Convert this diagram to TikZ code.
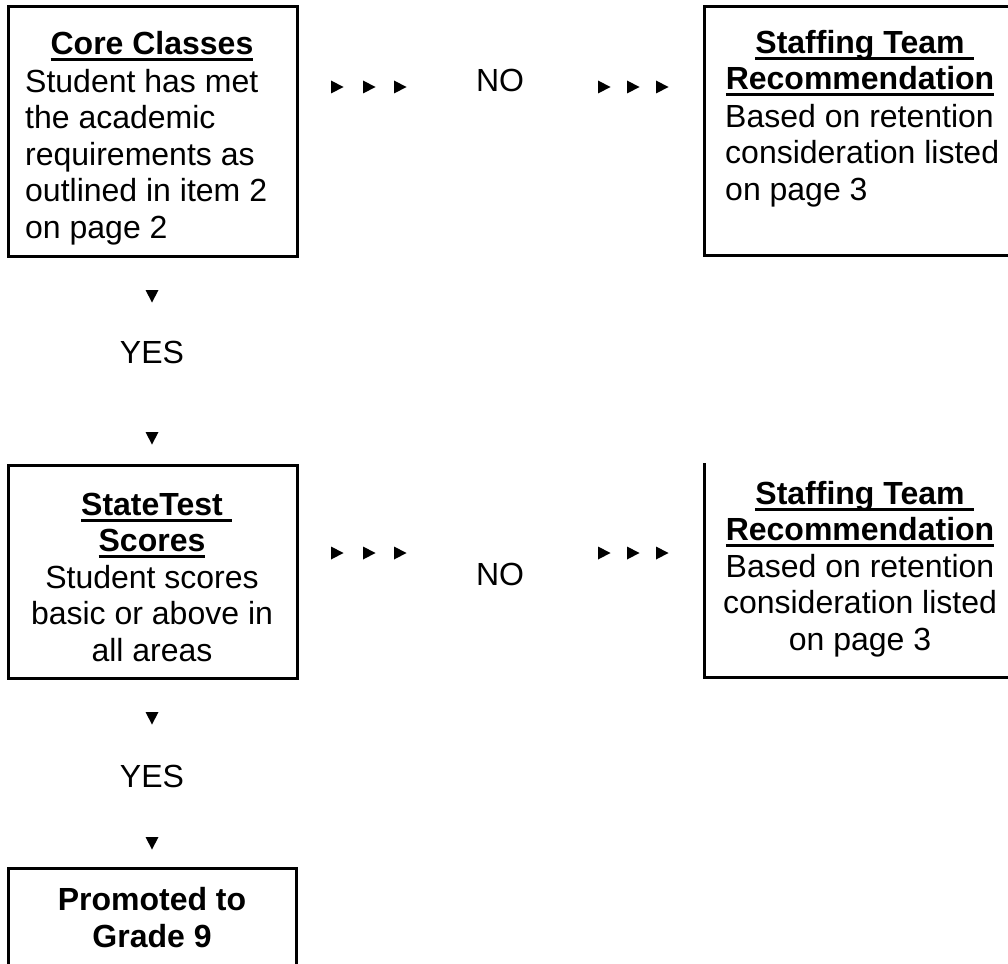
\documentclass[tikz,border=0pt]{standalone}
\usepackage{fontspec}
\setmainfont{Liberation Sans}
\usepackage{tikz}

\newcommand{\headrule}[1]{\setbox0\hbox{#1}\rlap{\rule[-6.5pt]{\wd0}{3pt}}\box0}
\newcommand{\headrulesp}[1]{\headrule{#1}\rlap{\rule[-6.5pt]{9pt}{3pt}}}

\tikzset{
  flowbox/.style={line width=3pt},
  flowtext/.style={inner sep=0pt, font=\fontsize{32}{36.5}\selectfont},
  flowhead/.style={inner sep=0pt, font=\fontsize{32}{36.5}\selectfont\bfseries},
}

\begin{document}
\begin{tikzpicture}[x=1pt, y=-1pt]
\useasboundingbox (0,0) rectangle (1008,963);
\clip (0,0) rectangle (1008,963);

\draw[flowbox] (8,7) rectangle (297,256);
\draw[flowbox] (704,7) rectangle (1016,255);
\draw[flowbox] (8,465) rectangle (297,678);
\draw[flowbox] (704,463) -- (704,677) -- (1016,677);
\draw[flowbox] (8,990) -- (8,868) -- (296,868) -- (296,990);

% multi-line nodes sit on their last baseline
\node[flowhead, anchor=base] (core-head) at (152,55) {\headrule{Core Classes}};
\node[flowtext, anchor=base west, align=left] (core-body) at (25,238)
  {Student has met\\the academic\\requirements as\\outlined in item 2\\on page 2};

\node[flowhead, anchor=base, align=center] (staff-head) at (860,90)
  {\headrulesp{Staffing Team}\\\headrule{Recommendation}};
\node[flowtext, anchor=base west, align=left] (staff-body) at (725,200)
  {Based on retention\\consideration listed\\on page 3};

\node[flowtext, anchor=base, align=center] (state) at (152,661)
  {{\bfseries\headrulesp{StateTest}}\\{\bfseries\headrule{Scores}}\\Student scores\\basic or above in\\all areas};

\node[flowtext, anchor=base, align=center] (staff-low) at (860,650)
  {{\bfseries\headrulesp{Staffing Team}}\\{\bfseries\headrule{Recommendation}}\\Based on retention\\consideration listed\\on page 3};

\node[flowhead, anchor=base, align=center] (promo) at (152,947) {Promoted to\\Grade 9};

\node[flowtext, anchor=base] (no-top) at (500,92) {NO};
\node[flowtext, anchor=base] (no-low) at (500,585) {NO};
\node[flowtext, anchor=base] (yes-top) at (152,363) {YES};
\node[flowtext, anchor=base] (yes-low) at (152,787) {YES};

\foreach \y in {87,553}
  \foreach \x in {337,369,400,604,633,662}
    \fill[shift={(\x,\y)}] (-6,-6.5) -- (6.5,0) -- (-6,6.5) -- cycle;
\foreach \y in {296,438,718,843}
  \fill[shift={(152,\y)}] (-6.5,-6) -- (6.5,-6) -- (0,6.5) -- cycle;
\end{tikzpicture}
\end{document}
